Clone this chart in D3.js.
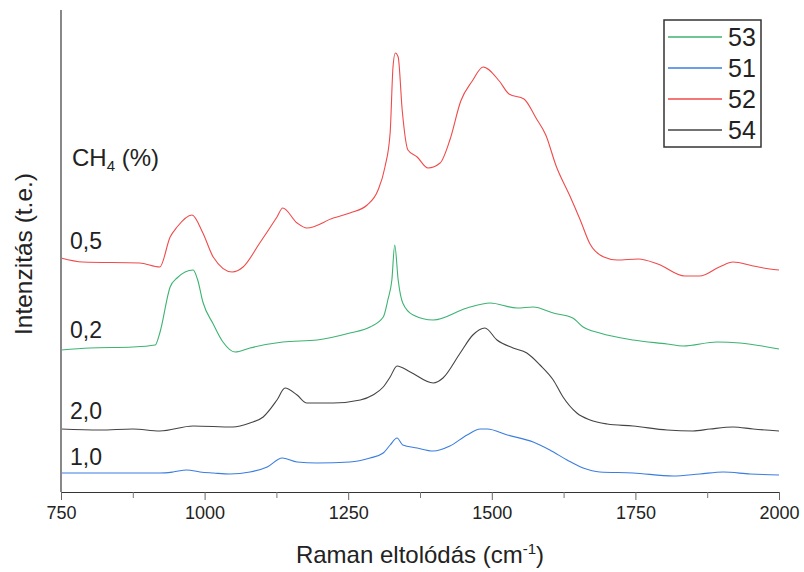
<!DOCTYPE html>
<html>
<head>
<meta charset="utf-8">
<script src="https://cdn.jsdelivr.net/npm/d3@7/dist/d3.min.js"></script>
<style>
  body { margin: 0; background: #fff; }
  text { font-family: Arial, "Liberation Sans", sans-serif; fill: #222; }
</style>
</head>
<body>
<svg id="chart" width="804" height="572"></svg>
<script>
// Raman spectra (intensity in arbitrary units, curves stacked)
var shift52 = [750, 788, 887, 922, 940, 952, 978, 997, 1015, 1048, 1067, 1096, 1126, 1136, 1161, 1178, 1224, 1253, 1283, 1302, 1314, 1323, 1328, 1332, 1337, 1344, 1354, 1370, 1389, 1410, 1427, 1446, 1466, 1485, 1513, 1530, 1556, 1577, 1594, 1612, 1636, 1654, 1671, 1695, 1718, 1755, 1789, 1836, 1862, 1896, 1920, 1955, 1984, 2000];
var int52 = [234, 230, 229, 225, 255, 265, 277, 259, 235, 220, 225, 249, 275, 284, 269, 264, 274, 279, 287, 302, 325, 359, 425, 439, 435, 382, 342, 335, 324, 329, 352, 391, 411, 425, 411, 398, 393, 374, 357, 326, 296, 272, 248, 235, 232, 233, 228, 216, 216, 225, 230, 226, 223, 222];

var shift53 = [750, 800, 875, 914, 922, 940, 952, 980, 988, 997, 1015, 1032, 1053, 1079, 1136, 1196, 1253, 1288, 1311, 1319, 1326, 1331, 1337, 1345, 1363, 1398, 1457, 1497, 1544, 1572, 1607, 1641, 1659, 1688, 1746, 1805, 1833, 1892, 1932, 2000];
var int53 = [142, 144, 145, 147, 159, 205, 214, 222, 212, 190, 168, 150, 140, 144, 150, 152, 159, 165, 175, 192, 212, 247, 212, 189, 177, 172, 184, 189, 184, 185, 179, 174, 165, 159, 152, 148, 146, 150, 149, 143];

var shift54 = [750, 818, 875, 922, 980, 1049, 1079, 1102, 1126, 1140, 1161, 1178, 1224, 1271, 1293, 1311, 1323, 1335, 1358, 1398, 1415, 1445, 1467, 1488, 1509, 1537, 1561, 1584, 1607, 1624, 1648, 1671, 1701, 1746, 1805, 1850, 1880, 1920, 1955, 2000];
var int54 = [63, 62, 63, 61, 66, 65, 69, 75, 92, 104, 97, 89, 89, 92, 97, 105, 115, 126, 120, 109, 114, 139, 157, 164, 152, 144, 139, 127, 112, 95, 79, 72, 68, 66, 62, 61, 63, 65, 63, 61];

var shift51 = [750, 818, 922, 945, 969, 992, 1015, 1044, 1079, 1109, 1135, 1161, 1196, 1253, 1288, 1311, 1323, 1335, 1345, 1370, 1398, 1427, 1457, 1480, 1492, 1527, 1572, 1601, 1631, 1659, 1688, 1746, 1816, 1862, 1903, 1950, 2000];
var int51 = [19, 19, 19, 20, 22, 20, 19, 18, 20, 25, 34, 30, 29, 30, 34, 39, 47, 54, 47, 44, 41, 46, 57, 63, 63, 57, 50, 42, 32, 24, 20, 19, 16, 18, 20, 18, 17];

var legendNames = ["53", "51", "52", "54"];
var legendColors = ["#3cb371", "#3a7de0", "#f04a4a", "#444444"];
var curveLabels = ["0,5", "0,2", "2,0", "1,0"];
var xTicks = [750, 1000, 1250, 1500, 1750, 2000];

var series = [
  { name: "53", x: shift53, y: int53 },
  { name: "51", x: shift51, y: int51 },
  { name: "52", x: shift52, y: int52 },
  { name: "54", x: shift54, y: int54 }
];

var svg = d3.select("#chart");
var margin = { top: 10, right: 25, bottom: 80, left: 61 };
var width = +svg.attr("width") - margin.left - margin.right;
var height = +svg.attr("height") - margin.top - margin.bottom;

var x = d3.scaleLinear().domain([750, 2000]).range([0, width]);
var y = d3.scaleLinear().domain([0, 480]).range([height, 2]);

var g = svg.append("g")
  .attr("transform", "translate(" + margin.left + "," + margin.top + ")");

var color = d3.scaleOrdinal().domain(legendNames).range(legendColors);

var line = d3.line()
  .x(function (d) { return x(d[0]); })
  .y(function (d) { return y(d[1]); })
  .curve(d3.curveMonotoneX);

series.forEach(function (s) {
  g.append("path")
    .datum(d3.zip(s.x, s.y))
    .attr("fill", "none")
    .attr("stroke", color(s.name))
    .attr("stroke-width", 1.1)
    .attr("d", line);
});

// x axis: labelled ticks every 250 and minor ticks in between
var xAxis = g.append("g")
  .attr("transform", "translate(0," + height + ")")
  .call(d3.axisBottom(x).tickValues(xTicks).tickSize(8).tickPadding(6).tickFormat(d3.format("d")));
xAxis.select(".domain").attr("stroke", "#333");
xAxis.selectAll(".tick line").attr("stroke", "#666");
xAxis.selectAll("text")
  .style("font-family", "Arial, 'Liberation Sans', sans-serif")
  .style("font-size", "18px")
  .attr("fill", "#222");

g.append("g")
  .attr("transform", "translate(0," + height + ")")
  .call(d3.axisBottom(x).tickValues(d3.range(875, 2000, 250)).tickSize(6).tickFormat(""))
  .call(function (a) { a.select(".domain").remove(); })
  .selectAll(".tick line").attr("stroke", "#777");

// y axis: plain line only
g.append("line")
  .attr("x1", 0).attr("x2", 0)
  .attr("y1", y(0)).attr("y2", 0)
  .attr("stroke", "#888")
  .attr("stroke-width", 2);

svg.append("text")
  .attr("x", 420)
  .attr("y", 563)
  .attr("text-anchor", "middle")
  .style("font-size", "24px")
  .html("Raman eltolódás (cm<tspan dy='-9' font-size='15px'>-1</tspan><tspan dy='9'>)</tspan>");

svg.append("text")
  .attr("transform", "translate(32,254) rotate(-90)")
  .attr("text-anchor", "middle")
  .style("font-size", "24.5px")
  .text("Intenzitás (t.e.)");

// CH4 labels next to the curves
svg.append("text")
  .attr("x", 72).attr("y", 166)
  .style("font-size", "24px")
  .html("CH<tspan dy='5' font-size='15px'>4</tspan><tspan dy='-5'> (%)</tspan>");

var labelY = [249, 338, 419, 465];
curveLabels.forEach(function (t, i) {
  svg.append("text")
    .attr("x", 70).attr("y", labelY[i])
    .style("font-size", "23px")
    .text(t);
});

// legend
var legend = svg.append("g").attr("transform", "translate(664,20)");
legend.append("rect")
  .attr("width", 97).attr("height", 127)
  .attr("fill", "#fff")
  .attr("stroke", "#333")
  .attr("stroke-width", 1.5);
legendNames.forEach(function (n, i) {
  var ly = 17 + i * 31;
  legend.append("line")
    .attr("x1", 4).attr("x2", 58)
    .attr("y1", ly).attr("y2", ly)
    .attr("stroke", color(n))
    .attr("stroke-width", 1.3);
  legend.append("text")
    .attr("x", 64).attr("y", ly + 9)
    .style("font-size", "25px")
    .text(n);
});
</script>
</body>
</html>
